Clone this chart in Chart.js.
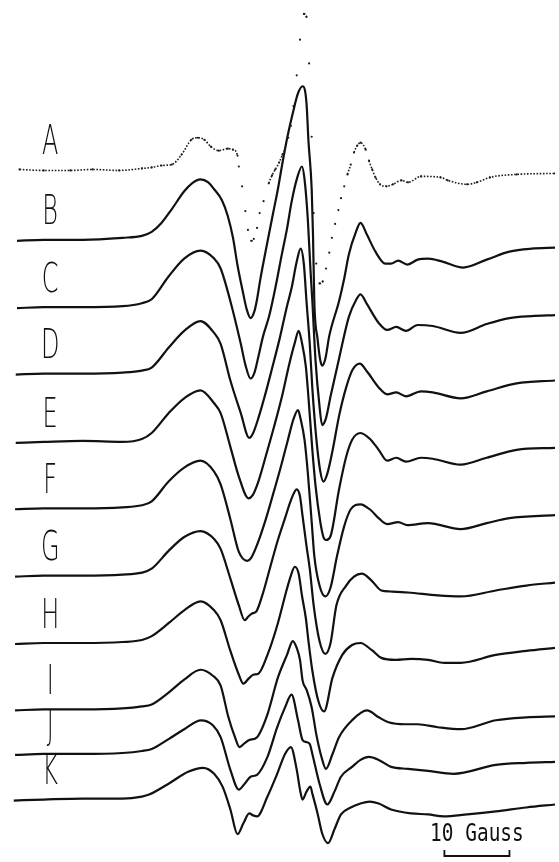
<!DOCTYPE html>
<html>
<head>
<meta charset="utf-8">
<title>EPR spectra A–K</title>
<script src="https://cdn.jsdelivr.net/npm/chart.js@4.4.1/dist/chart.umd.min.js"></script>
<style>
  html, body { margin: 0; padding: 0; background: #ffffff; }
  #wrap { width: 559px; height: 862px; }
</style>
</head>
<body>
<div id="wrap"><canvas id="spectra" width="559" height="862"></canvas></div>
<script>
// Magnetic field (G) and first-derivative signal (arbitrary units) of each spectrum.
const fieldA = [2.4, 6.1, 10.2, 13.6, 17.7, 21.2, 22.7, 24.2, 25.8, 27.3, 28.8, 29.8, 30.8, 31.8, 33.0, 34.4, 35.2, 35.9, 36.1, 36.6, 37.1, 37.5, 38.0, 38.4, 38.9, 39.3, 39.9, 40.7, 41.2, 41.7, 42.3, 42.8, 43.2, 43.7, 44.1, 44.5, 45.0, 45.5, 46.1, 46.5, 46.9, 47.3, 47.6, 48.0, 48.5, 49.0, 49.5, 50.0, 50.4, 50.9, 51.4, 51.8, 52.3, 52.8, 53.3, 53.8, 54.3, 54.8, 55.6, 56.1, 56.6, 57.1, 57.8, 58.8, 59.8, 61.1, 62.1, 64.1, 67.1, 68.2, 71.2, 72.7, 74.7, 78.8, 84.7];
const signalA = [0, -1, -1, 0, -1, 1, 2, 4, 5, 15, 30, 32, 30, 23, 19, 21, 20, 14, 3, -17, -42, -61, -72, -70, -59, -44, -32, -14, -6, 0, 7, 15, 21, 32, 44, 64, 95, 131, 157, 154, 107, 33, -44, -95, -115, -113, -100, -84, -69, -55, -41, -29, -17, -5, 5, 17, 24, 27, 20, 9, 0, -8, -15, -17, -15, -11, -13, -7, -8, -11, -15, -13, -8, -5, -4];

const fieldB = [2.0, 6.1, 12.1, 18.2, 21.2, 22.7, 24.2, 25.8, 27.7, 28.9, 30.2, 31.4, 32.3, 33.5, 34.4, 35.2, 35.9, 36.7, 37.3, 37.9, 38.5, 38.9, 39.4, 40.5, 41.4, 42.1, 42.9, 43.6, 44.4, 45.2, 45.9, 46.5, 46.8, 47.3, 47.5, 47.7, 48.2, 48.6, 48.9, 49.4, 50.0, 51.5, 52.3, 53.0, 54.1, 54.8, 55.8, 57.1, 58.6, 59.5, 60.6, 62.0, 63.6, 65.2, 67.4, 70.6, 74.2, 77.7, 81.1, 84.7];
const signalB = [-1, 0, 0, 2, 4, 8, 17, 31, 49, 57, 61, 58, 51, 40, 24, 2, -26, -52, -70, -79, -72, -60, -40, -2, 28, 51, 81, 105, 128, 148, 155, 138, 100, 51, 5, -62, -100, -121, -127, -120, -97, -62, -39, -15, 8, 17, 5, -12, -24, -24, -21, -25, -20, -19, -22, -28, -20, -12, -9, -8];

const fieldC = [2.0, 6.1, 12.1, 18.2, 21.2, 22.7, 25.3, 27.7, 30.2, 32.3, 33.3, 34.8, 36.4, 37.1, 37.9, 38.5, 39.1, 39.8, 40.8, 41.7, 42.7, 43.5, 44.2, 45.0, 45.8, 46.2, 46.7, 47.1, 47.4, 47.9, 48.5, 48.9, 49.5, 50.2, 51.5, 53.0, 54.1, 54.8, 55.8, 57.6, 58.9, 60.3, 61.8, 63.6, 65.9, 70.2, 74.2, 77.7, 81.1, 84.7];
const signalC = [-1, 0, 0, 1, 4, 8, 31, 49, 57, 49, 39, 6, -37, -58, -72, -66, -50, -30, -8, 19, 53, 79, 106, 129, 142, 129, 89, 39, 6, -55, -100, -119, -112, -90, -52, -10, 7, 13, 3, -16, -23, -20, -24, -18, -19, -26, -17, -11, -9, -8];

const fieldD = [1.8, 6.1, 12.1, 18.2, 21.2, 22.7, 25.3, 27.7, 30.2, 32.3, 33.3, 34.8, 36.4, 37.7, 38.3, 39.1, 40.2, 41.2, 42.4, 43.5, 44.2, 45.0, 45.6, 46.1, 46.5, 47.0, 47.4, 48.0, 48.6, 49.1, 49.7, 50.5, 51.5, 52.6, 53.6, 54.7, 55.8, 57.6, 58.9, 60.3, 61.8, 64.1, 65.9, 70.2, 74.2, 78.8, 84.7];
const signalD = [-1, 0, 0, 1, 3, 6, 26, 43, 53, 41, 30, -7, -40, -65, -60, -45, -20, 5, 36, 68, 86, 113, 126, 110, 73, 30, -15, -65, -98, -109, -101, -78, -43, -14, 4, 10, 2, -14, -21, -19, -23, -18, -19, -25, -18, -10, -7];

const fieldE = [1.8, 6.1, 12.1, 18.2, 21.2, 22.7, 25.3, 27.7, 30.2, 32.3, 33.3, 34.8, 36.1, 37.6, 38.2, 39.1, 40.3, 41.5, 42.7, 43.9, 44.7, 45.3, 45.8, 46.4, 46.8, 47.4, 47.9, 48.6, 49.1, 49.5, 50.2, 51.5, 52.6, 53.5, 54.8, 56.4, 57.6, 58.9, 60.3, 61.8, 64.1, 65.9, 70.2, 74.2, 78.8, 84.7];
const signalE = [-1, 0, 1, 0, 3, 9, 29, 44, 52, 39, 29, -5, -35, -57, -54, -40, -13, 15, 45, 80, 100, 112, 100, 76, 45, -8, -45, -80, -96, -99, -95, -48, -15, 2, 9, 2, -8, -19, -16, -20, -16, -17, -23, -16, -8, -6];

const fieldF = [1.7, 6.1, 12.1, 18.2, 21.2, 22.7, 25.3, 27.7, 30.2, 32.3, 33.3, 34.8, 36.1, 37.4, 38.0, 38.9, 40.2, 41.4, 42.6, 43.6, 44.5, 45.2, 45.6, 46.2, 46.7, 47.3, 47.7, 48.5, 49.4, 50.2, 51.2, 52.3, 53.3, 54.8, 56.4, 57.6, 58.9, 60.6, 62.0, 65.2, 70.2, 74.2, 77.7, 84.7];
const signalF = [-1, 0, 0, 1, 3, 7, 27, 41, 48, 37, 24, -11, -44, -53, -50, -37, -12, 15, 43, 68, 90, 99, 90, 69, 36, -14, -48, -78, -89, -80, -48, -18, -1, 4, -2, -10, -16, -14, -17, -15, -21, -15, -10, -7];

const fieldG = [1.7, 6.1, 12.1, 18.2, 21.2, 22.7, 25.3, 27.7, 30.2, 32.3, 33.3, 34.8, 36.1, 37.0, 37.6, 38.2, 38.8, 39.7, 40.9, 42.1, 43.2, 44.1, 45.0, 45.5, 45.9, 46.5, 47.0, 47.6, 48.5, 49.4, 50.2, 51.1, 52.6, 53.8, 55.0, 56.5, 58.0, 59.4, 62.1, 66.7, 70.2, 75.6, 80.3, 84.7];
const signalG = [-1, 0, 0, 1, 3, 7, 25, 39, 45, 37, 27, -3, -30, -45, -41, -38, -36, -20, 8, 36, 58, 76, 87, 80, 60, 30, 7, -30, -66, -79, -68, -30, -10, -1, 2, -5, -15, -16, -17, -20, -21, -15, -10, -7];

const fieldH = [1.7, 6.1, 12.1, 18.2, 21.2, 22.7, 25.3, 27.7, 30.2, 32.3, 33.3, 34.8, 36.1, 36.8, 37.6, 38.3, 39.1, 40.5, 42.1, 43.3, 44.1, 44.7, 45.3, 45.8, 46.4, 46.8, 47.4, 48.3, 49.2, 50.5, 52.0, 53.5, 54.8, 56.5, 58.0, 60.2, 62.6, 65.2, 67.7, 70.2, 75.6, 80.3, 84.7];
const signalH = [-1, 0, 0, 1, 3, 7, 20, 33, 42, 33, 23, -8, -32, -41, -36, -32, -31, -12, 20, 50, 68, 77, 70, 48, 25, 2, -28, -58, -69, -35, -12, -2, 0, -7, -15, -17, -16, -17, -20, -20, -12, -8, -5];

const fieldI = [1.7, 6.1, 12.1, 18.2, 21.2, 22.7, 25.3, 27.7, 30.2, 32.1, 33.3, 34.5, 35.5, 36.2, 37.0, 37.7, 38.9, 40.5, 42.1, 43.5, 44.4, 45.0, 45.5, 45.9, 46.5, 47.3, 48.0, 48.8, 49.5, 50.5, 51.5, 53.5, 55.8, 57.6, 59.1, 61.7, 63.6, 66.7, 70.2, 75.6, 80.3, 84.7];
const signalI = [-1, 0, 0, 1, 3, 5, 17, 30, 40, 34, 24, -8, -28, -38, -34, -31, -28, -5, 32, 55, 69, 62, 50, 29, 20, 2, -25, -48, -60, -45, -28, -11, -1, -8, -13, -15, -15, -18, -20, -11, -8, -7];

const fieldJ = [1.7, 6.1, 12.1, 18.2, 21.2, 22.7, 25.3, 27.7, 30.3, 32.1, 33.3, 34.8, 36.1, 37.0, 37.9, 38.9, 40.5, 42.0, 43.2, 44.2, 45.2, 45.9, 46.5, 47.0, 47.4, 48.5, 49.7, 50.8, 51.8, 53.5, 54.8, 56.1, 57.6, 59.5, 62.1, 65.2, 69.1, 75.6, 80.3, 84.7];
const signalJ = [-1, 0, 0, 1, 3, 5, 15, 25, 34, 29, 17, -16, -36, -30, -23, -21, -3, 27, 47, 60, 34, 14, 12, 10, 0, -30, -51, -38, -23, -13, -6, -3, -6, -13, -15, -17, -20, -11, -9, -8];

const fieldK = [1.5, 6.1, 12.1, 18.2, 21.2, 22.3, 25.3, 28.3, 30.6, 32.3, 33.6, 34.8, 35.9, 36.8, 37.7, 38.3, 38.9, 40.5, 42.0, 43.2, 44.1, 45.0, 45.5, 45.9, 46.5, 47.1, 47.4, 48.2, 48.9, 49.8, 50.8, 51.8, 53.3, 54.8, 56.2, 57.6, 59.5, 62.6, 65.2, 67.6, 71.2, 75.6, 80.3, 84.7];
const signalK = [-1, 0, 1, 1, 3, 5, 16, 28, 32, 26, 13, -10, -35, -24, -14, -16, -17, 3, 26, 46, 53, 30, 10, 0, 8, 13, 6, -14, -34, -44, -30, -15, -8, -4, -2, -4, -10, -14, -15, -17, -15, -12, -8, -5];

// Trace names and the vertical offset that stacks each spectrum.
const traceLabels = ['A', 'B', 'C', 'D', 'E', 'F', 'G', 'H', 'I', 'J', 'K'];
const traceOffsets = [695, 624, 556, 489, 420, 353, 285, 217, 150, 105, 59];
const traceFields = [fieldA, fieldB, fieldC, fieldD, fieldE, fieldF, fieldG, fieldH, fieldI, fieldJ, fieldK];
const traceSignals = [signalA, signalB, signalC, signalD, signalE, signalF, signalG, signalH, signalI, signalJ, signalK];

// Field range shown and the scale bar length.
const fieldMin = 0;
const fieldMax = 84.7;
const scaleBarGauss = 10;
const scaleBarStart = 67.7;
const scaleBarText = '10 Gauss';

const INK = '#111111';
const DOT_INK = '#1e1e1e';

function stackedPoints(i) {
  return traceFields[i].map((x, k) => ({ x: x, y: traceOffsets[i] + traceSignals[i][k] }));
}

// Trace A is plotted point by point: dots are joined only where the curve is shallow.
function sparseSegment(c) {
  const dx = Math.abs(c.p1.x - c.p0.x);
  const dy = Math.abs(c.p1.y - c.p0.y);
  return dy > 2.2 * dx + 3;
}

const datasets = traceLabels.map((name, i) => {
  if (i === 0) {
    return {
      label: name,
      data: stackedPoints(i),
      borderColor: DOT_INK,
      borderWidth: 1.6,
      borderDash: [1.6, 1.6],
      pointRadius: 1.1,
      pointBorderWidth: 0,
      pointBackgroundColor: DOT_INK,
      cubicInterpolationMode: 'monotone',
      segment: {
        borderColor: c => sparseSegment(c) ? 'rgba(0,0,0,0)' : DOT_INK
      }
    };
  }
  return {
    label: name,
    data: stackedPoints(i),
    borderColor: INK,
    borderWidth: 2.2,
    pointRadius: 0,
    cubicInterpolationMode: 'monotone'
  };
});

// Letters beside each spectrum, plus the field scale bar.
const annotations = {
  id: 'annotations',
  afterDatasetsDraw(chart) {
    const { ctx, scales: { x, y } } = chart;
    ctx.save();
    ctx.fillStyle = INK;
    ctx.textAlign = 'center';
    ctx.textBaseline = 'middle';
    ctx.font = '200 40px "DejaVu Sans", Inter, sans-serif';
    traceLabels.forEach((name, i) => {
      const px = x.getPixelForValue(7.1);
      const py = y.getPixelForValue(traceOffsets[i] + 26);
      ctx.save();
      ctx.translate(px, py);
      ctx.scale(0.6, 1);
      ctx.fillText(name, 0, 0);
      ctx.restore();
    });

    const x0 = x.getPixelForValue(scaleBarStart);
    const x1 = x.getPixelForValue(scaleBarStart + scaleBarGauss);
    const yb = y.getPixelForValue(2);
    const yt = y.getPixelForValue(8);
    ctx.strokeStyle = INK;
    ctx.lineWidth = 1.8;
    ctx.beginPath();
    ctx.moveTo(x0, yt);
    ctx.lineTo(x0, yb);
    ctx.lineTo(x1, yb);
    ctx.lineTo(x1, yt);
    ctx.stroke();

    ctx.textBaseline = 'alphabetic';
    ctx.font = '24px "DejaVu Sans Mono", monospace';
    ctx.save();
    ctx.translate((x0 + x1) / 2, y.getPixelForValue(17));
    ctx.scale(0.81, 1);
    ctx.fillText(scaleBarText, 0, 0);
    ctx.restore();
    ctx.restore();
  }
};

new Chart(document.getElementById('spectra'), {
  type: 'line',
  data: { datasets: datasets },
  options: {
    responsive: false,
    animation: false,
    devicePixelRatio: 1,
    layout: { padding: 0 },
    plugins: { legend: { display: false }, tooltip: { enabled: false } },
    scales: {
      x: { type: 'linear', min: fieldMin, max: fieldMax, display: false },
      y: { type: 'linear', min: 0, max: 862, display: false }
    }
  },
  plugins: [annotations]
});
</script>
</body>
</html>
